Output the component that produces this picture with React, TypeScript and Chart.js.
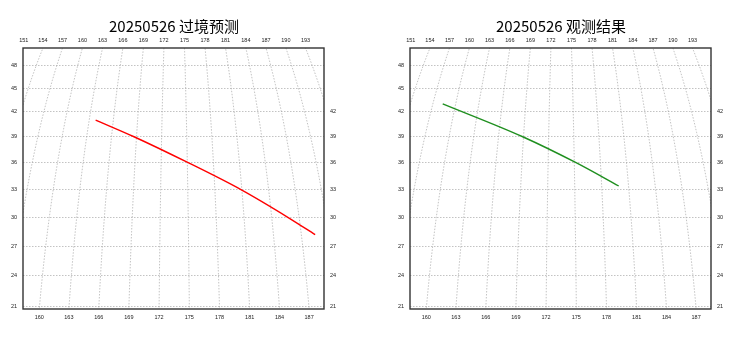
import React, { useEffect, useRef } from "react";
import { Chart, registerables } from "chart.js";

Chart.register(...registerables);

// Projection centre (orthographic, centred on the equator)
const LON0 = 173.5;

// Graticule
const MERIDIAN_LONS = [148, 151, 154, 157, 160, 163, 166, 169, 172, 175, 178, 181, 184, 187, 190, 193, 196];
const LEFT_LAT_LABELS = [21, 24, 27, 30, 33, 36, 39, 42, 45, 48];
const RIGHT_LAT_LABELS = [21, 24, 27, 30, 33, 36, 39, 42];
const TOP_LON_LABELS = [151, 154, 157, 160, 163, 166, 169, 172, 175, 178, 181, 184, 187, 190, 193];
const BOTTOM_LON_LABELS = [160, 163, 166, 169, 172, 175, 178, 181, 184, 187];

// Tracks (longitude / latitude)
const FORECAST_LON = [163.8, 168.7, 175.1, 180.9, 185.8, 188.5];
const FORECAST_LAT = [41.0, 39.0, 36.0, 33.0, 30.0, 28.2];
const OBSERVED_LON = [158.3, 168.9, 175.2, 179.9];
const OBSERVED_LAT = [43.0, 39.0, 36.0, 33.4];

// Map extent in projected units
const X_MIN = -0.2447;
const X_MAX = 0.2424;
const Y_MIN = 0.3536;
const Y_MAX = 0.7714;

const D = Math.PI / 180;
const COS_TOP = Math.sqrt(1 - Y_MAX * Y_MAX);
const COS_BOT = Math.sqrt(1 - Y_MIN * Y_MIN);

function proj(lon: number, lat: number) {
  return { x: Math.cos(lat * D) * Math.sin((lon - LON0) * D), y: Math.sin(lat * D) };
}

function meridianPoints(lon: number) {
  const pts: { x: number; y: number }[] = [];
  for (let lat = 10; lat <= 60; lat += 0.5) pts.push(proj(lon, lat));
  return pts;
}

const tickFont = { family: "'Liberation Sans', 'DejaVu Sans', sans-serif", size: 5.5 };
const GRID_COLOR = "#9a9a9a";

const framePlugin = {
  id: "frame",
  afterDatasetsDraw(chart: any) {
    const { ctx, chartArea } = chart;
    ctx.save();
    ctx.strokeStyle = "#333";
    ctx.lineWidth = 1.4;
    ctx.strokeRect(chartArea.left, chartArea.top, chartArea.right - chartArea.left, chartArea.bottom - chartArea.top);
    ctx.restore();
  },
};

function Panel(props: { title: string; lons: number[]; lats: number[]; color: string; left: number }) {
  const ref = useRef<HTMLCanvasElement | null>(null);
  useEffect(() => {
    if (!ref.current) return;
    const track = props.lons.map((lon, i) => proj(lon, props.lats[i]));
    const datasets: any[] = [
      {
        label: "track",
        data: track,
        borderColor: props.color,
        borderWidth: 1.4,
        pointRadius: 0,
        showLine: true,
        cubicInterpolationMode: "monotone",
        fill: false,
      },
      ...MERIDIAN_LONS.map((lon) => ({
        label: "m" + lon,
        data: meridianPoints(lon),
        borderColor: GRID_COLOR,
        borderWidth: 0.6,
        borderDash: [1.5, 1.5],
        pointRadius: 0,
        showLine: true,
        fill: false,
      })),
    ];
    const chart = new Chart(ref.current, {
      type: "scatter",
      data: { datasets },
      options: {
        animation: false,
        responsive: false,
        maintainAspectRatio: false,
        layout: { padding: 0 },
        plugins: {
          legend: { display: false },
          tooltip: { enabled: false },
          title: {
            display: true,
            text: props.title,
            color: "#000",
            font: { family: "'Noto Sans CJK SC', sans-serif", size: 15, weight: "normal" as any },
            padding: { top: 17, bottom: 1 },
          },
        },
        scales: {
          x: {
            type: "linear",
            position: "bottom",
            min: X_MIN,
            max: X_MAX,
            grid: { display: false, drawTicks: false },
            border: { display: false },
            afterBuildTicks: (s: any) => {
              s.ticks = BOTTOM_LON_LABELS.map((l) => ({ value: COS_BOT * Math.sin((l - LON0) * D) }));
            },
            afterFit: (s: any) => {
              s.height = 29;
            },
            ticks: {
              autoSkip: false,
              maxRotation: 0,
              padding: 5,
              color: "#222",
              font: tickFont,
              callback: (_v: any, i: number) => String(BOTTOM_LON_LABELS[i]),
            },
          },
          xTop: {
            type: "linear",
            position: "top",
            min: X_MIN,
            max: X_MAX,
            grid: { display: false, drawTicks: false },
            border: { display: false },
            afterBuildTicks: (s: any) => {
              s.ticks = TOP_LON_LABELS.map((l) => ({ value: Math.max(X_MIN + 0.001, COS_TOP * Math.sin((l - LON0) * D)) }));
            },
            afterFit: (s: any) => {
              s.height = 12;
            },
            ticks: {
              autoSkip: false,
              maxRotation: 0,
              padding: 4,
              color: "#222",
              font: tickFont,
              callback: (_v: any, i: number) => String(TOP_LON_LABELS[i]),
            },
          },
          y: {
            type: "linear",
            position: "left",
            min: Y_MIN,
            max: Y_MAX,
            grid: { display: true, drawTicks: false, color: GRID_COLOR, lineWidth: 0.6 },
            border: { display: false, dash: [1.5, 1.5] },
            afterBuildTicks: (s: any) => {
              s.ticks = LEFT_LAT_LABELS.map((l) => ({ value: Math.sin(l * D) }));
            },
            afterFit: (s: any) => {
              s.width = 23;
            },
            ticks: {
              autoSkip: false,
              padding: 6,
              color: "#222",
              font: tickFont,
              callback: (_v: any, i: number) => String(LEFT_LAT_LABELS[i]),
            },
          },
          yRight: {
            type: "linear",
            position: "right",
            min: Y_MIN,
            max: Y_MAX,
            grid: { display: false, drawTicks: false },
            border: { display: false },
            afterBuildTicks: (s: any) => {
              s.ticks = RIGHT_LAT_LABELS.map((l) => ({ value: Math.sin(l * D) }));
            },
            afterFit: (s: any) => {
              s.width = 24;
            },
            ticks: {
              autoSkip: false,
              padding: 6,
              color: "#222",
              font: tickFont,
              callback: (_v: any, i: number) => String(RIGHT_LAT_LABELS[i]),
            },
          },
        },
      } as any,
      plugins: [framePlugin],
    });
    return () => chart.destroy();
  }, []);
  return (
    <canvas
      ref={ref}
      width={348}
      height={338}
      style={{ position: "absolute", left: props.left, top: 0, width: 348, height: 338 }}
    />
  );
}

export default function App() {
  return (
    <div style={{ position: "fixed", left: 0, top: 0, width: 744, height: 338, background: "#fff" }}>
      <Panel title="20250526 过境预测" lons={FORECAST_LON} lats={FORECAST_LAT} color="#ff0000" left={0} />
      <Panel title="20250526 观测结果" lons={OBSERVED_LON} lats={OBSERVED_LAT} color="#1f8f1f" left={387} />
    </div>
  );
}
